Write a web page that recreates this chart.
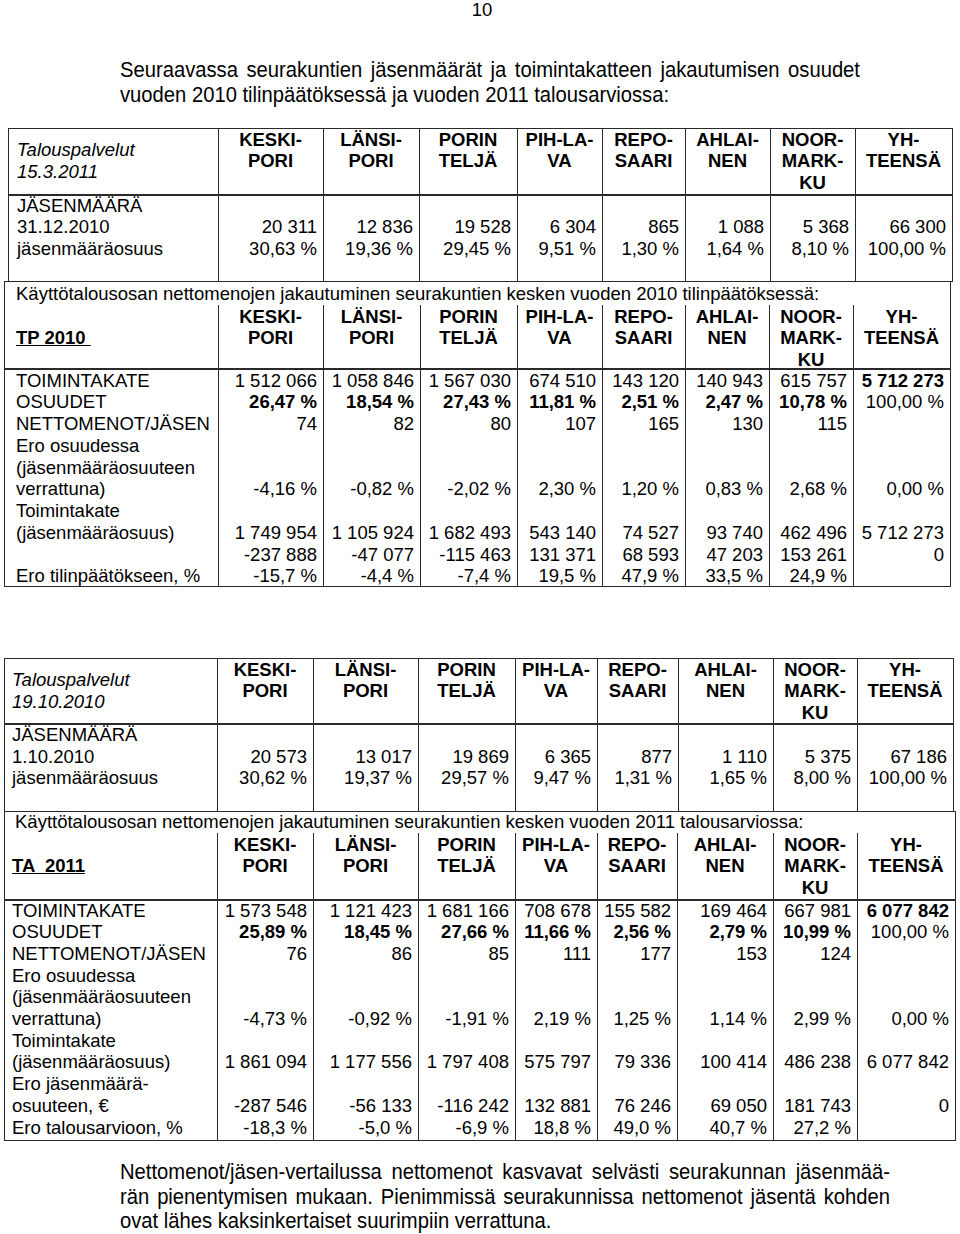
<!DOCTYPE html>
<html><head><meta charset="utf-8">
<script src="https://cdn.jsdelivr.net/npm/chart.js@4.4.1/dist/chart.umd.min.js"></script>
<style>
body{margin:0;background:#fff}
#page{position:relative;width:960px;height:1234px;font-family:"Liberation Sans",Arial,sans-serif;color:#000;overflow:hidden;background:#fff}
.t{position:absolute;white-space:pre;font-size:18.5px;height:22px;line-height:22px}
.p{position:absolute;white-space:nowrap;font-size:21.5px;height:25px;line-height:25px;text-align:justify;text-align-last:justify;transform-origin:0 50%;transform:scaleX(0.94)}
.ln{position:absolute;background:#2a2a2a}
</style></head>
<body><div id="page"></div>
<script>
// ---------- data ----------
const parishHeaders = [["KESKI-","PORI"],["LÄNSI-","PORI"],["PORIN","TELJÄ"],["PIH-LA-","VA"],["REPO-","SAARI"],["AHLAI-","NEN"],["NOOR-","MARK-","KU"],["YH-","TEENSÄ"]];

const members2010 = [20311,12836,19528,6304,865,1088,5368,66300];
const memberShare2010 = [30.63,19.36,29.45,9.51,1.30,1.64,8.10,100.00];

const opMargin2010 = [1512066,1058846,1567030,674510,143120,140943,615757,5712273];
const opShare2010 = [26.47,18.54,27.43,11.81,2.51,2.47,10.78,100.00];
const netPerMember2010 = [74,82,80,107,165,130,115,null];
const shareDiff2010 = [-4.16,-0.82,-2.02,2.30,1.20,0.83,2.68,0.00];
const opByMemberShare2010 = [1749954,1105924,1682493,543140,74527,93740,462496,5712273];
const diffEuro2010 = [-237888,-47077,-115463,131371,68593,47203,153261,0];
const diffPct2010 = [-15.7,-4.4,-7.4,19.5,47.9,33.5,24.9,null];

const members2011 = [20573,13017,19869,6365,877,1110,5375,67186];
const memberShare2011 = [30.62,19.37,29.57,9.47,1.31,1.65,8.00,100.00];

const opMargin2011 = [1573548,1121423,1681166,708678,155582,169464,667981,6077842];
const opShare2011 = [25.89,18.45,27.66,11.66,2.56,2.79,10.99,100.00];
const netPerMember2011 = [76,86,85,111,177,153,124,null];
const shareDiff2011 = [-4.73,-0.92,-1.91,2.19,1.25,1.14,2.99,0.00];
const opByMemberShare2011 = [1861094,1177556,1797408,575797,79336,100414,486238,6077842];
const diffEuro2011 = [-287546,-56133,-116242,132881,76246,69050,181743,0];
const diffPct2011 = [-18.3,-5.0,-6.9,18.8,49.0,40.7,27.2,null];

const memberLabels2010 = ["JÄSENMÄÄRÄ","31.12.2010","jäsenmääräosuus"];
const memberLabels2011 = ["JÄSENMÄÄRÄ","1.10.2010","jäsenmääräosuus"];
const tpLabels = ["TOIMINTAKATE","OSUUDET","NETTOMENOT/JÄSEN","Ero osuudessa","(jäsenmääräosuuteen","verrattuna)","Toimintakate","(jäsenmääräosuus)","","Ero tilinpäätökseen, %"];
const taLabels = ["TOIMINTAKATE","OSUUDET","NETTOMENOT/JÄSEN","Ero osuudessa","(jäsenmääräosuuteen","verrattuna)","Toimintakate","(jäsenmääräosuus)","Ero jäsenmäärä-","osuuteen, €","Ero talousarvioon, %"];

// ---------- helpers ----------
const page = document.getElementById('page');
const LH = 21.6;
function fmtInt(v){ if(v===null) return ''; const s=Math.abs(Math.round(v)).toString().replace(/\B(?=(\d{3})+(?!\d))/g,' '); return (v<0?'-':'')+s; }
function fmtPct(d){ return v => v===null ? '' : (v<0?'-':'')+Math.abs(v).toFixed(d).replace('.',',')+' %'; }
function text(str,left,width,cy,align,style){
  const d=document.createElement('div'); d.className='t';
  d.textContent=str; d.style.left=left+'px'; d.style.width=width+'px';
  d.style.top=(cy-11)+'px'; d.style.textAlign=align||'left';
  if(style) Object.assign(d.style,style);
  page.appendChild(d); return d;
}
function hline(x0,x1,y,w){ const d=document.createElement('div'); d.className='ln'; d.style.left=x0+'px'; d.style.width=(x1-x0+1)+'px'; d.style.top=y+'px'; d.style.height=(w||1)+'px'; page.appendChild(d); }
function vline(x,y0,y1){ const d=document.createElement('div'); d.className='ln'; d.style.left=x+'px'; d.style.top=y0+'px'; d.style.height=(y1-y0+1)+'px'; d.style.width='1px'; page.appendChild(d); }
function para(str,left,width,cy,last){
  const d=document.createElement('div'); d.className='p'; d.textContent=str;
  d.style.left=left+'px'; d.style.width=(width/0.94)+'px'; d.style.top=(cy-12.5)+'px';
  if(last){ d.style.textAlign='left'; d.style.textAlignLast='left'; }
  page.appendChild(d);
}

function drawTable(s){
  const E=s.edges, L=E[0], R=E[E.length-1];
  const outerTop = s.mergedTop!==undefined ? s.mergedTop : s.hdrTop;
  hline(L,R,outerTop);
  vline(L,outerTop,s.bodyBottom); vline(R,outerTop,s.bodyBottom);
  for(let i=1;i<E.length-1;i++) vline(E[i],s.hdrTop,s.bodyBottom);
  hline(L,R,s.hdrBottom,2);
  hline(L,R,s.bodyBottom);
  if(s.mergedText) text(s.mergedText,L+s.mpad,R-L-s.mpad,s.mergedCy,'left');
  s.headLabel.lines.forEach((t,i)=>text(t,L+s.pad,E[1]-L-s.pad,s.hdrTop+11.5+s.headLabel.offset*LH+i*LH,'left',s.headLabel.style));
  parishHeaders.forEach((lines,c)=>lines.forEach((t,i)=>text(t,E[c+1],E[c+2]-E[c+1],s.hdrTop+11.5+i*LH,'center',{fontWeight:'bold'})));
  const b0 = s.hdrBottom+s.bodyOff;
  s.labels.forEach((t,i)=>{ if(t) text(t,L+s.pad,E[1]-L-s.pad+40,b0+i*s.lh,'left'); });
  s.rows.forEach(r=>r.values.forEach((v,c)=>{
    const str=r.fmt(v); if(!str) return;
    const bold = r.bold ? r.bold(c) : false;
    text(str,E[c+1],E[c+2]-E[c+1]-6,b0+r.line*s.lh,'right',bold?{fontWeight:'bold'}:null);
  }));
}

// ---------- page ----------
text("10",440,84,10,'center');
para("Seuraavassa seurakuntien jäsenmäärät ja toimintakatteen jakautumisen osuudet",120,740,70,false);
para("vuoden 2010 tilinpäätöksessä ja vuoden 2011 talousarviossa:",120,740,95,true);

const italicHead = {fontStyle:'italic'};
drawTable({edges:[8,218,323,419,517,602,685,770,855,952], hdrTop:128, hdrBottom:194, bodyBottom:281, pad:9, mpad:9, bodyOff:11.5, lh:21.6,
  headLabel:{lines:["Talouspalvelut","15.3.2011"],offset:0.5,style:italicHead},
  labels:memberLabels2010,
  rows:[{line:1,values:members2010,fmt:fmtInt},{line:2,values:memberShare2010,fmt:fmtPct(2)}]});

drawTable({edges:[4,218,323,420,517,602,685,769,853,950], mergedTop:281, mergedText:"Käyttötalousosan nettomenojen jakautuminen seurakuntien kesken vuoden 2010 tilinpäätöksessä:", mergedCy:294,
  hdrTop:305, hdrBottom:368, bodyBottom:586, pad:12, mpad:12, bodyOff:12.5, lh:21.75,
  headLabel:{lines:["TP 2010\u00a0"],offset:1,style:{fontWeight:'bold',textDecoration:'underline'}},
  labels:tpLabels,
  rows:[{line:0,values:opMargin2010,fmt:fmtInt,bold:c=>c===7},
        {line:1,values:opShare2010,fmt:fmtPct(2),bold:c=>c!==7},
        {line:2,values:netPerMember2010,fmt:fmtInt},
        {line:5,values:shareDiff2010,fmt:fmtPct(2)},
        {line:7,values:opByMemberShare2010,fmt:fmtInt},
        {line:8,values:diffEuro2010,fmt:fmtInt},
        {line:9,values:diffPct2010,fmt:fmtPct(1)}]});

drawTable({edges:[4,217,313,418,515,597,678,773,857,953], hdrTop:658, hdrBottom:723, bodyBottom:811, pad:8, mpad:8, bodyOff:12, lh:21.6,
  headLabel:{lines:["Talouspalvelut","19.10.2010"],offset:0.5,style:italicHead},
  labels:memberLabels2011,
  rows:[{line:1,values:members2011,fmt:fmtInt},{line:2,values:memberShare2011,fmt:fmtPct(2)}]});

drawTable({edges:[4,217,313,418,515,597,677,773,857,955], mergedTop:811, mergedText:"Käyttötalousosan nettomenojen jakautuminen seurakuntien kesken vuoden 2011 talousarviossa:", mergedCy:822,
  hdrTop:833, hdrBottom:899, bodyBottom:1140, pad:8, mpad:11, bodyOff:11.5, lh:21.7,
  headLabel:{lines:["TA  2011"],offset:1,style:{fontWeight:'bold',textDecoration:'underline'}},
  labels:taLabels,
  rows:[{line:0,values:opMargin2011,fmt:fmtInt,bold:c=>c===7},
        {line:1,values:opShare2011,fmt:fmtPct(2),bold:c=>c!==7},
        {line:2,values:netPerMember2011,fmt:fmtInt},
        {line:5,values:shareDiff2011,fmt:fmtPct(2)},
        {line:7,values:opByMemberShare2011,fmt:fmtInt},
        {line:9,values:diffEuro2011,fmt:fmtInt},
        {line:10,values:diffPct2011,fmt:fmtPct(1)}]});

para("Nettomenot/jäsen-vertailussa nettomenot kasvavat selvästi seurakunnan jäsenmää-",120,770,1172,false);
para("rän pienentymisen mukaan. Pienimmissä seurakunnissa nettomenot jäsentä kohden",120,770,1197,false);
para("ovat lähes kaksinkertaiset suurimpiin verrattuna.",120,770,1221,true);
</script>
</body></html>
